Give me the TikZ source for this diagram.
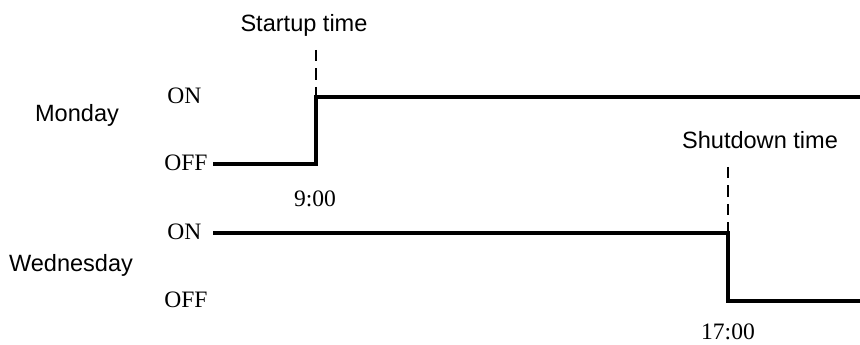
\documentclass[tikz,border=0pt]{standalone}
\usepackage{fontspec}
\setmainfont{Liberation Serif}
\setsansfont{Liberation Sans}
\tikzset{
  sigline/.style={line width=1.8pt},
  guide/.style={line width=0.75pt,dash pattern=on 6.5pt off 4pt},
  lvl/.style={font=\fontsize{13.4}{15}\selectfont,inner sep=0pt},
  daylbl/.style={font=\sffamily\fontsize{13.4}{15}\selectfont,inner sep=0pt},
  evlbl/.style={font=\sffamily\fontsize{13.4}{15}\selectfont,inner sep=0pt}
}
\begin{document}
\begin{tikzpicture}
      \useasboundingbox (0,0) rectangle (17.2,6.9);

      % Monday
      \node[daylbl] (mon) at (1.54,4.60) {Monday};
      \node[lvl] (mon-on) at (3.69,4.98) {ON};
      \node[lvl] (mon-off) at (3.72,3.64) {OFF};
      \coordinate (m1) at (4.26,3.62);
      \coordinate (m2) at (6.32,3.62);
      \coordinate (m3) at (6.32,4.96);
      \coordinate (m4) at (17.2,4.96);
      \coordinate (m5) at (6.32,5.90);
      \node[evlbl] (start) at (6.08,6.40) {Startup time};
      \node[lvl] (t9) at (6.30,2.92) {9:00};

      \draw[sigline] (m1) -- (m2) -- (m3) -- (m4);
      \draw[guide] (m5) -- (m3);

      % Wednesday
      \node[daylbl] (wed) at (1.42,1.60) {Wednesday};
      \node[lvl] (wed-on) at (3.69,2.26) {ON};
      \node[lvl] (wed-off) at (3.72,0.90) {OFF};
      \coordinate (w1) at (4.26,2.24);
      \coordinate (w2) at (14.56,2.24);
      \coordinate (w3) at (14.56,0.88);
      \coordinate (w4) at (17.2,0.88);
      \coordinate (w5) at (14.56,3.56);
      \node[evlbl] (stop) at (15.20,4.10) {Shutdown time};
      \node[lvl] (t17) at (14.56,0.26) {17:00};

      \draw[sigline] (w1) -- (w2) -- (w3) -- (w4);
      \draw[guide] (w5) -- (w2);
    \end{tikzpicture}
\end{document}
